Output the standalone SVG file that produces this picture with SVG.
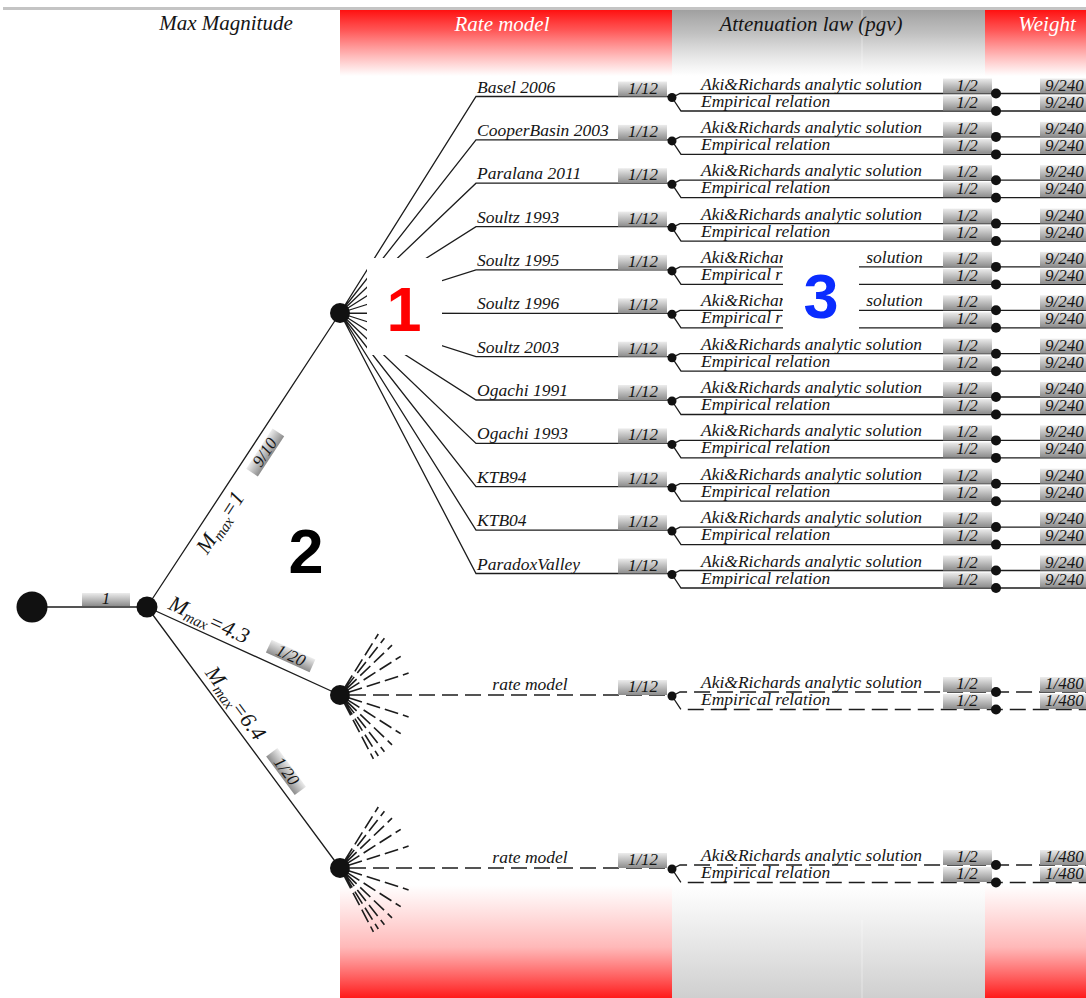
<svg xmlns="http://www.w3.org/2000/svg" xmlns:xlink="http://www.w3.org/1999/xlink" width="1086" height="998" viewBox="0 0 1086 998">
<style>
.ln{stroke:#1c1c1c;stroke-width:1.3;fill:none}
.dl{stroke:#1c1c1c;stroke-width:1.3;fill:none;stroke-dasharray:16 7}
.ray{stroke:#1c1c1c;stroke-width:1.6;fill:none;stroke-dasharray:14 5}
.t{font-family:"Liberation Serif",serif;font-style:italic;font-size:17.5px;fill:#151515}
.bt{font-family:"Liberation Serif",serif;font-style:italic;font-size:17px;fill:#151515;text-anchor:middle}
.wt{font-family:"Liberation Serif",serif;font-style:italic;font-size:17px;fill:#151515}
.hd{font-family:"Liberation Serif",serif;font-style:italic;font-size:21px;text-anchor:middle}
.ml{font-family:"Liberation Serif",serif;font-style:italic;font-size:22px;fill:#151515;text-anchor:middle}
.bx{fill:url(#bxg)}
.dot{fill:#111}
.big{font-family:"Liberation Sans",Arial,sans-serif;font-weight:bold;font-size:63px;text-anchor:middle}
</style>
<defs>
<linearGradient id="bxg" x1="0" y1="0" x2="0" y2="1">
<stop offset="0" stop-color="#ececec"/><stop offset="1" stop-color="#8c8c8c"/>
</linearGradient>
<linearGradient id="redTop" x1="0" y1="0" x2="0" y2="1">
<stop offset="0" stop-color="#ff1010" stop-opacity="1"/><stop offset="0.3" stop-color="#ff2a2a" stop-opacity="0.8"/><stop offset="1" stop-color="#ff4040" stop-opacity="0"/>
</linearGradient>
<linearGradient id="grayTop" x1="0" y1="0" x2="0" y2="1">
<stop offset="0" stop-color="#a0a0a0" stop-opacity="1"/><stop offset="0.35" stop-color="#b0b0b0" stop-opacity="0.8"/><stop offset="1" stop-color="#c0c0c0" stop-opacity="0"/>
</linearGradient>
<linearGradient id="redBot" x1="0" y1="0" x2="0" y2="1">
<stop offset="0" stop-color="#ff4040" stop-opacity="0"/><stop offset="0.55" stop-color="#ff3535" stop-opacity="0.35"/><stop offset="1" stop-color="#ff1a1a" stop-opacity="1"/>
</linearGradient>
<linearGradient id="grayBot" x1="0" y1="0" x2="0" y2="1">
<stop offset="0" stop-color="#d0d0d0" stop-opacity="0"/><stop offset="1" stop-color="#cfcfcf" stop-opacity="1"/>
</linearGradient>
<g id="minifan">
<path class="ray" d="M4.8 -7.6L38.3 -61M5.6 -7.1L44.4 -56.7M6.5 -6.2L52 -49.8M7.6 -4.8L60.7 -38.7M8.6 -2.7L68.6 -21.9M8.6 2.7L68.6 21.9M7.6 4.8L60.7 38.7M6.5 6.2L52 49.8M5.6 7.1L44.4 56.7M4.8 7.6L38.3 61M4.2 8L33.4 63.8"/>
</g>
</defs>

<g id="bands">
<rect x="0" y="0" width="1086" height="998" fill="#ffffff"/>
<line x1="3" y1="8.5" x2="1086" y2="8.5" stroke="#c4c4c4" stroke-width="3"/>
<rect x="340" y="10" width="332" height="66" fill="url(#redTop)"/>
<rect x="672" y="10" width="313" height="66" fill="url(#grayTop)"/>
<rect x="985" y="10" width="101" height="66" fill="url(#redTop)"/>
<rect x="340" y="885" width="332" height="113" fill="url(#redBot)"/>
<rect x="672" y="885" width="313" height="113" fill="url(#grayBot)"/>
<rect x="985" y="885" width="101" height="113" fill="url(#redBot)"/>
<line x1="862" y1="10" x2="862" y2="70" stroke="#ffffff" stroke-opacity="0.35" stroke-width="1.2"/>
<line x1="862" y1="920" x2="862" y2="998" stroke="#ffffff" stroke-opacity="0.35" stroke-width="1.2"/>
</g>

<g id="headers">
<text class="hd" x="226" y="30" fill="#151515">Max Magnitude</text>
<text class="hd" x="502" y="31" fill="#ffffff">Rate model</text>
<text class="hd" x="811" y="31" fill="#151515">Attenuation law (pgv)</text>
<text class="hd" x="1047" y="31" fill="#ffffff">Weight</text>
</g>

<g id="connectors">
<path class="ln" d="M32 607H147M147 607L340 313M147 607L340 695M147 607L340 868"/>
<path class="ln" d="M340 313L476 96.5H672M340 313L476 139.9H672M340 313L476 183.2H672M340 313L476 226.6H672M340 313L476 269.9H672M340 313L476 313.3H672M340 313L476 356.7H672M340 313L476 400H672M340 313L476 443.4H672M340 313L476 486.7H672M340 313L476 530.1H672M340 313L476 573.5H672"/>
<path class="ln" d="M672 97.5L680 93.5H1086M672 97.5L681 111H1086
M672 140.9L680 136.9H1086M672 140.9L681 154.4H1086
M672 184.2L680 180.2H1086M672 184.2L681 197.7H1086
M672 227.6L680 223.6H1086M672 227.6L681 241.1H1086
M672 270.9L680 266.9H1086M672 270.9L681 284.4H1086
M672 314.3L680 310.3H1086M672 314.3L681 327.8H1086
M672 357.7L680 353.7H1086M672 357.7L681 371.2H1086
M672 401L680 397H1086M672 401L681 414.5H1086
M672 444.4L680 440.4H1086M672 444.4L681 457.9H1086
M672 487.7L680 483.7H1086M672 487.7L681 501.2H1086
M672 531.1L680 527.1H1086M672 531.1L681 544.6H1086
M672 574.5L680 570.5H1086M672 574.5L681 588H1086"/>
<path class="dl" d="M350 695H672M672 696L680 692H1086M672 696L681 709.5H1086"/>
<path class="dl" d="M350 868H672M672 869L680 865H1086M672 869L681 882.5H1086"/>
<use xlink:href="#minifan" href="#minifan" x="340" y="695"/>
<use xlink:href="#minifan" href="#minifan" x="340" y="868"/>
</g>

<g id="root"><circle class="dot" cx="32" cy="607" r="15.5"/>
<rect class="bx" x="82" y="593" width="48" height="13"/><text class="bt" x="106" y="604">1</text></g>
<g id="mmax-node"><circle class="dot" cx="147" cy="607" r="10.5"/></g>

<g id="mmax1-label" transform="translate(147,607) rotate(-56.71)">
<text class="ml" x="111" y="22">M<tspan font-size="15" dy="4">max</tspan><tspan dy="-4">=1</tspan></text>
<rect class="bx" x="170" y="7" width="48" height="14"/><text class="bt" x="194" y="19">9/10</text>
</g>
<g id="mmax43-label" transform="translate(147,607) rotate(24.51)">
<text class="ml" x="62" y="-7">M<tspan font-size="15" dy="4">max</tspan><tspan dy="-4">=4.3</tspan></text>
<rect class="bx" x="127" y="-22" width="48" height="14"/><text class="bt" x="151" y="-10">1/20</text>
</g>
<g id="mmax64-label" transform="translate(147,607) rotate(53.52)">
<text class="ml" x="130" y="-7">M<tspan font-size="15" dy="4">max</tspan><tspan dy="-4">=6.4</tspan></text>
<rect class="bx" x="191" y="-21" width="48" height="14"/><text class="bt" x="215" y="-9">1/20</text>
</g>

<g id="node-mmax1"><circle class="dot" cx="340" cy="313" r="10"/></g>
<g id="node-mmax43"><circle class="dot" cx="340" cy="695" r="10"/></g>
<g id="node-mmax64"><circle class="dot" cx="340" cy="868" r="10"/></g>

<g id="rate-basel" transform="translate(0,96.5)"><text class="t" x="477" y="-4">Basel 2006</text><rect class="bx" x="618" y="-15" width="49" height="15"/><text class="bt" x="643" y="-3">1/12</text><circle class="dot" cx="672" cy="1" r="4.5"/></g>
<g id="rate-cooper" transform="translate(0,139.9)"><text class="t" x="477" y="-4">CooperBasin 2003</text><rect class="bx" x="618" y="-15" width="49" height="15"/><text class="bt" x="643" y="-3">1/12</text><circle class="dot" cx="672" cy="1" r="4.5"/></g>
<g id="rate-paralana" transform="translate(0,183.2)"><text class="t" x="477" y="-4">Paralana 2011</text><rect class="bx" x="618" y="-15" width="49" height="15"/><text class="bt" x="643" y="-3">1/12</text><circle class="dot" cx="672" cy="1" r="4.5"/></g>
<g id="rate-soultz1993" transform="translate(0,226.6)"><text class="t" x="477" y="-4">Soultz 1993</text><rect class="bx" x="618" y="-15" width="49" height="15"/><text class="bt" x="643" y="-3">1/12</text><circle class="dot" cx="672" cy="1" r="4.5"/></g>
<g id="rate-soultz1995" transform="translate(0,269.9)"><text class="t" x="477" y="-4">Soultz 1995</text><rect class="bx" x="618" y="-15" width="49" height="15"/><text class="bt" x="643" y="-3">1/12</text><circle class="dot" cx="672" cy="1" r="4.5"/></g>
<g id="rate-soultz1996" transform="translate(0,313.3)"><text class="t" x="477" y="-4">Soultz 1996</text><rect class="bx" x="618" y="-15" width="49" height="15"/><text class="bt" x="643" y="-3">1/12</text><circle class="dot" cx="672" cy="1" r="4.5"/></g>
<g id="rate-soultz2003" transform="translate(0,356.7)"><text class="t" x="477" y="-4">Soultz 2003</text><rect class="bx" x="618" y="-15" width="49" height="15"/><text class="bt" x="643" y="-3">1/12</text><circle class="dot" cx="672" cy="1" r="4.5"/></g>
<g id="rate-ogachi1991" transform="translate(0,400)"><text class="t" x="477" y="-4">Ogachi 1991</text><rect class="bx" x="618" y="-15" width="49" height="15"/><text class="bt" x="643" y="-3">1/12</text><circle class="dot" cx="672" cy="1" r="4.5"/></g>
<g id="rate-ogachi1993" transform="translate(0,443.4)"><text class="t" x="477" y="-4">Ogachi 1993</text><rect class="bx" x="618" y="-15" width="49" height="15"/><text class="bt" x="643" y="-3">1/12</text><circle class="dot" cx="672" cy="1" r="4.5"/></g>
<g id="rate-ktb94" transform="translate(0,486.7)"><text class="t" x="477" y="-4">KTB94</text><rect class="bx" x="618" y="-15" width="49" height="15"/><text class="bt" x="643" y="-3">1/12</text><circle class="dot" cx="672" cy="1" r="4.5"/></g>
<g id="rate-ktb04" transform="translate(0,530.1)"><text class="t" x="477" y="-4">KTB04</text><rect class="bx" x="618" y="-15" width="49" height="15"/><text class="bt" x="643" y="-3">1/12</text><circle class="dot" cx="672" cy="1" r="4.5"/></g>
<g id="rate-paradox" transform="translate(0,573.5)"><text class="t" x="477" y="-4">ParadoxValley</text><rect class="bx" x="618" y="-15" width="49" height="15"/><text class="bt" x="643" y="-3">1/12</text><circle class="dot" cx="672" cy="1" r="4.5"/></g>
<g id="rate-model-43" transform="translate(0,695)"><text class="t" x="530" y="-5" text-anchor="middle">rate model</text><rect class="bx" x="618" y="-15" width="49" height="15"/><text class="bt" x="643" y="-3">1/12</text><circle class="dot" cx="672" cy="1" r="4.5"/></g>
<g id="rate-model-64" transform="translate(0,868)"><text class="t" x="530" y="-5" text-anchor="middle">rate model</text><rect class="bx" x="618" y="-15" width="49" height="15"/><text class="bt" x="643" y="-3">1/12</text><circle class="dot" cx="672" cy="1" r="4.5"/></g>

<g id="att-rows">
<g id="att-0" transform="translate(0,96.5)"><text class="t" x="701" y="-7">Aki&amp;Richards analytic solution</text><text class="t" x="701" y="10">Empirical relation</text><rect class="bx" x="943" y="-18" width="49" height="15"/><text class="bt" x="967" y="-6">1/2</text><rect class="bx" x="943" y="-1" width="49" height="15"/><text class="bt" x="967" y="11">1/2</text></g>
<g id="att-1" transform="translate(0,139.9)"><text class="t" x="701" y="-7">Aki&amp;Richards analytic solution</text><text class="t" x="701" y="10">Empirical relation</text><rect class="bx" x="943" y="-18" width="49" height="15"/><text class="bt" x="967" y="-6">1/2</text><rect class="bx" x="943" y="-1" width="49" height="15"/><text class="bt" x="967" y="11">1/2</text></g>
<g id="att-2" transform="translate(0,183.2)"><text class="t" x="701" y="-7">Aki&amp;Richards analytic solution</text><text class="t" x="701" y="10">Empirical relation</text><rect class="bx" x="943" y="-18" width="49" height="15"/><text class="bt" x="967" y="-6">1/2</text><rect class="bx" x="943" y="-1" width="49" height="15"/><text class="bt" x="967" y="11">1/2</text></g>
<g id="att-3" transform="translate(0,226.6)"><text class="t" x="701" y="-7">Aki&amp;Richards analytic solution</text><text class="t" x="701" y="10">Empirical relation</text><rect class="bx" x="943" y="-18" width="49" height="15"/><text class="bt" x="967" y="-6">1/2</text><rect class="bx" x="943" y="-1" width="49" height="15"/><text class="bt" x="967" y="11">1/2</text></g>
<g id="att-4" transform="translate(0,269.9)"><text class="t" x="701" y="-7">Aki&amp;Richar</text><text class="t" x="922.7" y="-7" text-anchor="end">solution</text><text class="t" x="701" y="10">Empirical r</text><rect class="bx" x="943" y="-18" width="49" height="15"/><text class="bt" x="967" y="-6">1/2</text><rect class="bx" x="943" y="-1" width="49" height="15"/><text class="bt" x="967" y="11">1/2</text></g>
<g id="att-5" transform="translate(0,313.3)"><text class="t" x="701" y="-7">Aki&amp;Richar</text><text class="t" x="922.7" y="-7" text-anchor="end">solution</text><text class="t" x="701" y="10">Empirical r</text><rect class="bx" x="943" y="-18" width="49" height="15"/><text class="bt" x="967" y="-6">1/2</text><rect class="bx" x="943" y="-1" width="49" height="15"/><text class="bt" x="967" y="11">1/2</text></g>
<g id="att-6" transform="translate(0,356.7)"><text class="t" x="701" y="-7">Aki&amp;Richards analytic solution</text><text class="t" x="701" y="10">Empirical relation</text><rect class="bx" x="943" y="-18" width="49" height="15"/><text class="bt" x="967" y="-6">1/2</text><rect class="bx" x="943" y="-1" width="49" height="15"/><text class="bt" x="967" y="11">1/2</text></g>
<g id="att-7" transform="translate(0,400)"><text class="t" x="701" y="-7">Aki&amp;Richards analytic solution</text><text class="t" x="701" y="10">Empirical relation</text><rect class="bx" x="943" y="-18" width="49" height="15"/><text class="bt" x="967" y="-6">1/2</text><rect class="bx" x="943" y="-1" width="49" height="15"/><text class="bt" x="967" y="11">1/2</text></g>
<g id="att-8" transform="translate(0,443.4)"><text class="t" x="701" y="-7">Aki&amp;Richards analytic solution</text><text class="t" x="701" y="10">Empirical relation</text><rect class="bx" x="943" y="-18" width="49" height="15"/><text class="bt" x="967" y="-6">1/2</text><rect class="bx" x="943" y="-1" width="49" height="15"/><text class="bt" x="967" y="11">1/2</text></g>
<g id="att-9" transform="translate(0,486.7)"><text class="t" x="701" y="-7">Aki&amp;Richards analytic solution</text><text class="t" x="701" y="10">Empirical relation</text><rect class="bx" x="943" y="-18" width="49" height="15"/><text class="bt" x="967" y="-6">1/2</text><rect class="bx" x="943" y="-1" width="49" height="15"/><text class="bt" x="967" y="11">1/2</text></g>
<g id="att-10" transform="translate(0,530.1)"><text class="t" x="701" y="-7">Aki&amp;Richards analytic solution</text><text class="t" x="701" y="10">Empirical relation</text><rect class="bx" x="943" y="-18" width="49" height="15"/><text class="bt" x="967" y="-6">1/2</text><rect class="bx" x="943" y="-1" width="49" height="15"/><text class="bt" x="967" y="11">1/2</text></g>
<g id="att-11" transform="translate(0,573.5)"><text class="t" x="701" y="-7">Aki&amp;Richards analytic solution</text><text class="t" x="701" y="10">Empirical relation</text><rect class="bx" x="943" y="-18" width="49" height="15"/><text class="bt" x="967" y="-6">1/2</text><rect class="bx" x="943" y="-1" width="49" height="15"/><text class="bt" x="967" y="11">1/2</text></g>
<g id="att-43" transform="translate(0,695)"><text class="t" x="701" y="-7">Aki&amp;Richards analytic solution</text><text class="t" x="701" y="10">Empirical relation</text><rect class="bx" x="943" y="-18" width="49" height="15"/><text class="bt" x="967" y="-6">1/2</text><rect class="bx" x="943" y="-1" width="49" height="15"/><text class="bt" x="967" y="11">1/2</text></g>
<g id="att-64" transform="translate(0,868)"><text class="t" x="701" y="-7">Aki&amp;Richards analytic solution</text><text class="t" x="701" y="10">Empirical relation</text><rect class="bx" x="943" y="-18" width="49" height="15"/><text class="bt" x="967" y="-6">1/2</text><rect class="bx" x="943" y="-1" width="49" height="15"/><text class="bt" x="967" y="11">1/2</text></g>
</g>

<g id="weights">
<g id="w-0" transform="translate(0,96.5)"><circle class="dot" cx="996" cy="-3" r="5"/><circle class="dot" cx="996" cy="14.5" r="5"/><rect class="bx" x="1040" y="-18" width="50" height="15"/><text class="wt" x="1045" y="-6">9/240</text><rect class="bx" x="1040" y="-1" width="50" height="15"/><text class="wt" x="1045" y="11">9/240</text></g>
<g id="w-1" transform="translate(0,139.9)"><circle class="dot" cx="996" cy="-3" r="5"/><circle class="dot" cx="996" cy="14.5" r="5"/><rect class="bx" x="1040" y="-18" width="50" height="15"/><text class="wt" x="1045" y="-6">9/240</text><rect class="bx" x="1040" y="-1" width="50" height="15"/><text class="wt" x="1045" y="11">9/240</text></g>
<g id="w-2" transform="translate(0,183.2)"><circle class="dot" cx="996" cy="-3" r="5"/><circle class="dot" cx="996" cy="14.5" r="5"/><rect class="bx" x="1040" y="-18" width="50" height="15"/><text class="wt" x="1045" y="-6">9/240</text><rect class="bx" x="1040" y="-1" width="50" height="15"/><text class="wt" x="1045" y="11">9/240</text></g>
<g id="w-3" transform="translate(0,226.6)"><circle class="dot" cx="996" cy="-3" r="5"/><circle class="dot" cx="996" cy="14.5" r="5"/><rect class="bx" x="1040" y="-18" width="50" height="15"/><text class="wt" x="1045" y="-6">9/240</text><rect class="bx" x="1040" y="-1" width="50" height="15"/><text class="wt" x="1045" y="11">9/240</text></g>
<g id="w-4" transform="translate(0,269.9)"><circle class="dot" cx="996" cy="-3" r="5"/><circle class="dot" cx="996" cy="14.5" r="5"/><rect class="bx" x="1040" y="-18" width="50" height="15"/><text class="wt" x="1045" y="-6">9/240</text><rect class="bx" x="1040" y="-1" width="50" height="15"/><text class="wt" x="1045" y="11">9/240</text></g>
<g id="w-5" transform="translate(0,313.3)"><circle class="dot" cx="996" cy="-3" r="5"/><circle class="dot" cx="996" cy="14.5" r="5"/><rect class="bx" x="1040" y="-18" width="50" height="15"/><text class="wt" x="1045" y="-6">9/240</text><rect class="bx" x="1040" y="-1" width="50" height="15"/><text class="wt" x="1045" y="11">9/240</text></g>
<g id="w-6" transform="translate(0,356.7)"><circle class="dot" cx="996" cy="-3" r="5"/><circle class="dot" cx="996" cy="14.5" r="5"/><rect class="bx" x="1040" y="-18" width="50" height="15"/><text class="wt" x="1045" y="-6">9/240</text><rect class="bx" x="1040" y="-1" width="50" height="15"/><text class="wt" x="1045" y="11">9/240</text></g>
<g id="w-7" transform="translate(0,400)"><circle class="dot" cx="996" cy="-3" r="5"/><circle class="dot" cx="996" cy="14.5" r="5"/><rect class="bx" x="1040" y="-18" width="50" height="15"/><text class="wt" x="1045" y="-6">9/240</text><rect class="bx" x="1040" y="-1" width="50" height="15"/><text class="wt" x="1045" y="11">9/240</text></g>
<g id="w-8" transform="translate(0,443.4)"><circle class="dot" cx="996" cy="-3" r="5"/><circle class="dot" cx="996" cy="14.5" r="5"/><rect class="bx" x="1040" y="-18" width="50" height="15"/><text class="wt" x="1045" y="-6">9/240</text><rect class="bx" x="1040" y="-1" width="50" height="15"/><text class="wt" x="1045" y="11">9/240</text></g>
<g id="w-9" transform="translate(0,486.7)"><circle class="dot" cx="996" cy="-3" r="5"/><circle class="dot" cx="996" cy="14.5" r="5"/><rect class="bx" x="1040" y="-18" width="50" height="15"/><text class="wt" x="1045" y="-6">9/240</text><rect class="bx" x="1040" y="-1" width="50" height="15"/><text class="wt" x="1045" y="11">9/240</text></g>
<g id="w-10" transform="translate(0,530.1)"><circle class="dot" cx="996" cy="-3" r="5"/><circle class="dot" cx="996" cy="14.5" r="5"/><rect class="bx" x="1040" y="-18" width="50" height="15"/><text class="wt" x="1045" y="-6">9/240</text><rect class="bx" x="1040" y="-1" width="50" height="15"/><text class="wt" x="1045" y="11">9/240</text></g>
<g id="w-11" transform="translate(0,573.5)"><circle class="dot" cx="996" cy="-3" r="5"/><circle class="dot" cx="996" cy="14.5" r="5"/><rect class="bx" x="1040" y="-18" width="50" height="15"/><text class="wt" x="1045" y="-6">9/240</text><rect class="bx" x="1040" y="-1" width="50" height="15"/><text class="wt" x="1045" y="11">9/240</text></g>
<g id="w-43" transform="translate(0,695)"><circle class="dot" cx="996" cy="-3" r="5"/><circle class="dot" cx="996" cy="14.5" r="5"/><rect class="bx" x="1040" y="-18" width="50" height="15"/><text class="wt" x="1045" y="-6">1/480</text><rect class="bx" x="1040" y="-1" width="50" height="15"/><text class="wt" x="1045" y="11">1/480</text></g>
<g id="w-64" transform="translate(0,868)"><circle class="dot" cx="996" cy="-3" r="5"/><circle class="dot" cx="996" cy="14.5" r="5"/><rect class="bx" x="1040" y="-18" width="50" height="15"/><text class="wt" x="1045" y="-6">1/480</text><rect class="bx" x="1040" y="-1" width="50" height="15"/><text class="wt" x="1045" y="11">1/480</text></g>
</g>

<g id="callout-1"><rect x="367" y="258" width="75" height="97" fill="#ffffff"/><text class="big" x="404" y="331" fill="#ff0000">1</text></g>
<g id="callout-2"><text class="big" x="306" y="573" fill="#000000">2</text></g>
<g id="callout-3"><rect x="783" y="244" width="76" height="94" fill="#ffffff"/><text class="big" x="821" y="318" fill="#0a2cff">3</text></g>
</svg>
